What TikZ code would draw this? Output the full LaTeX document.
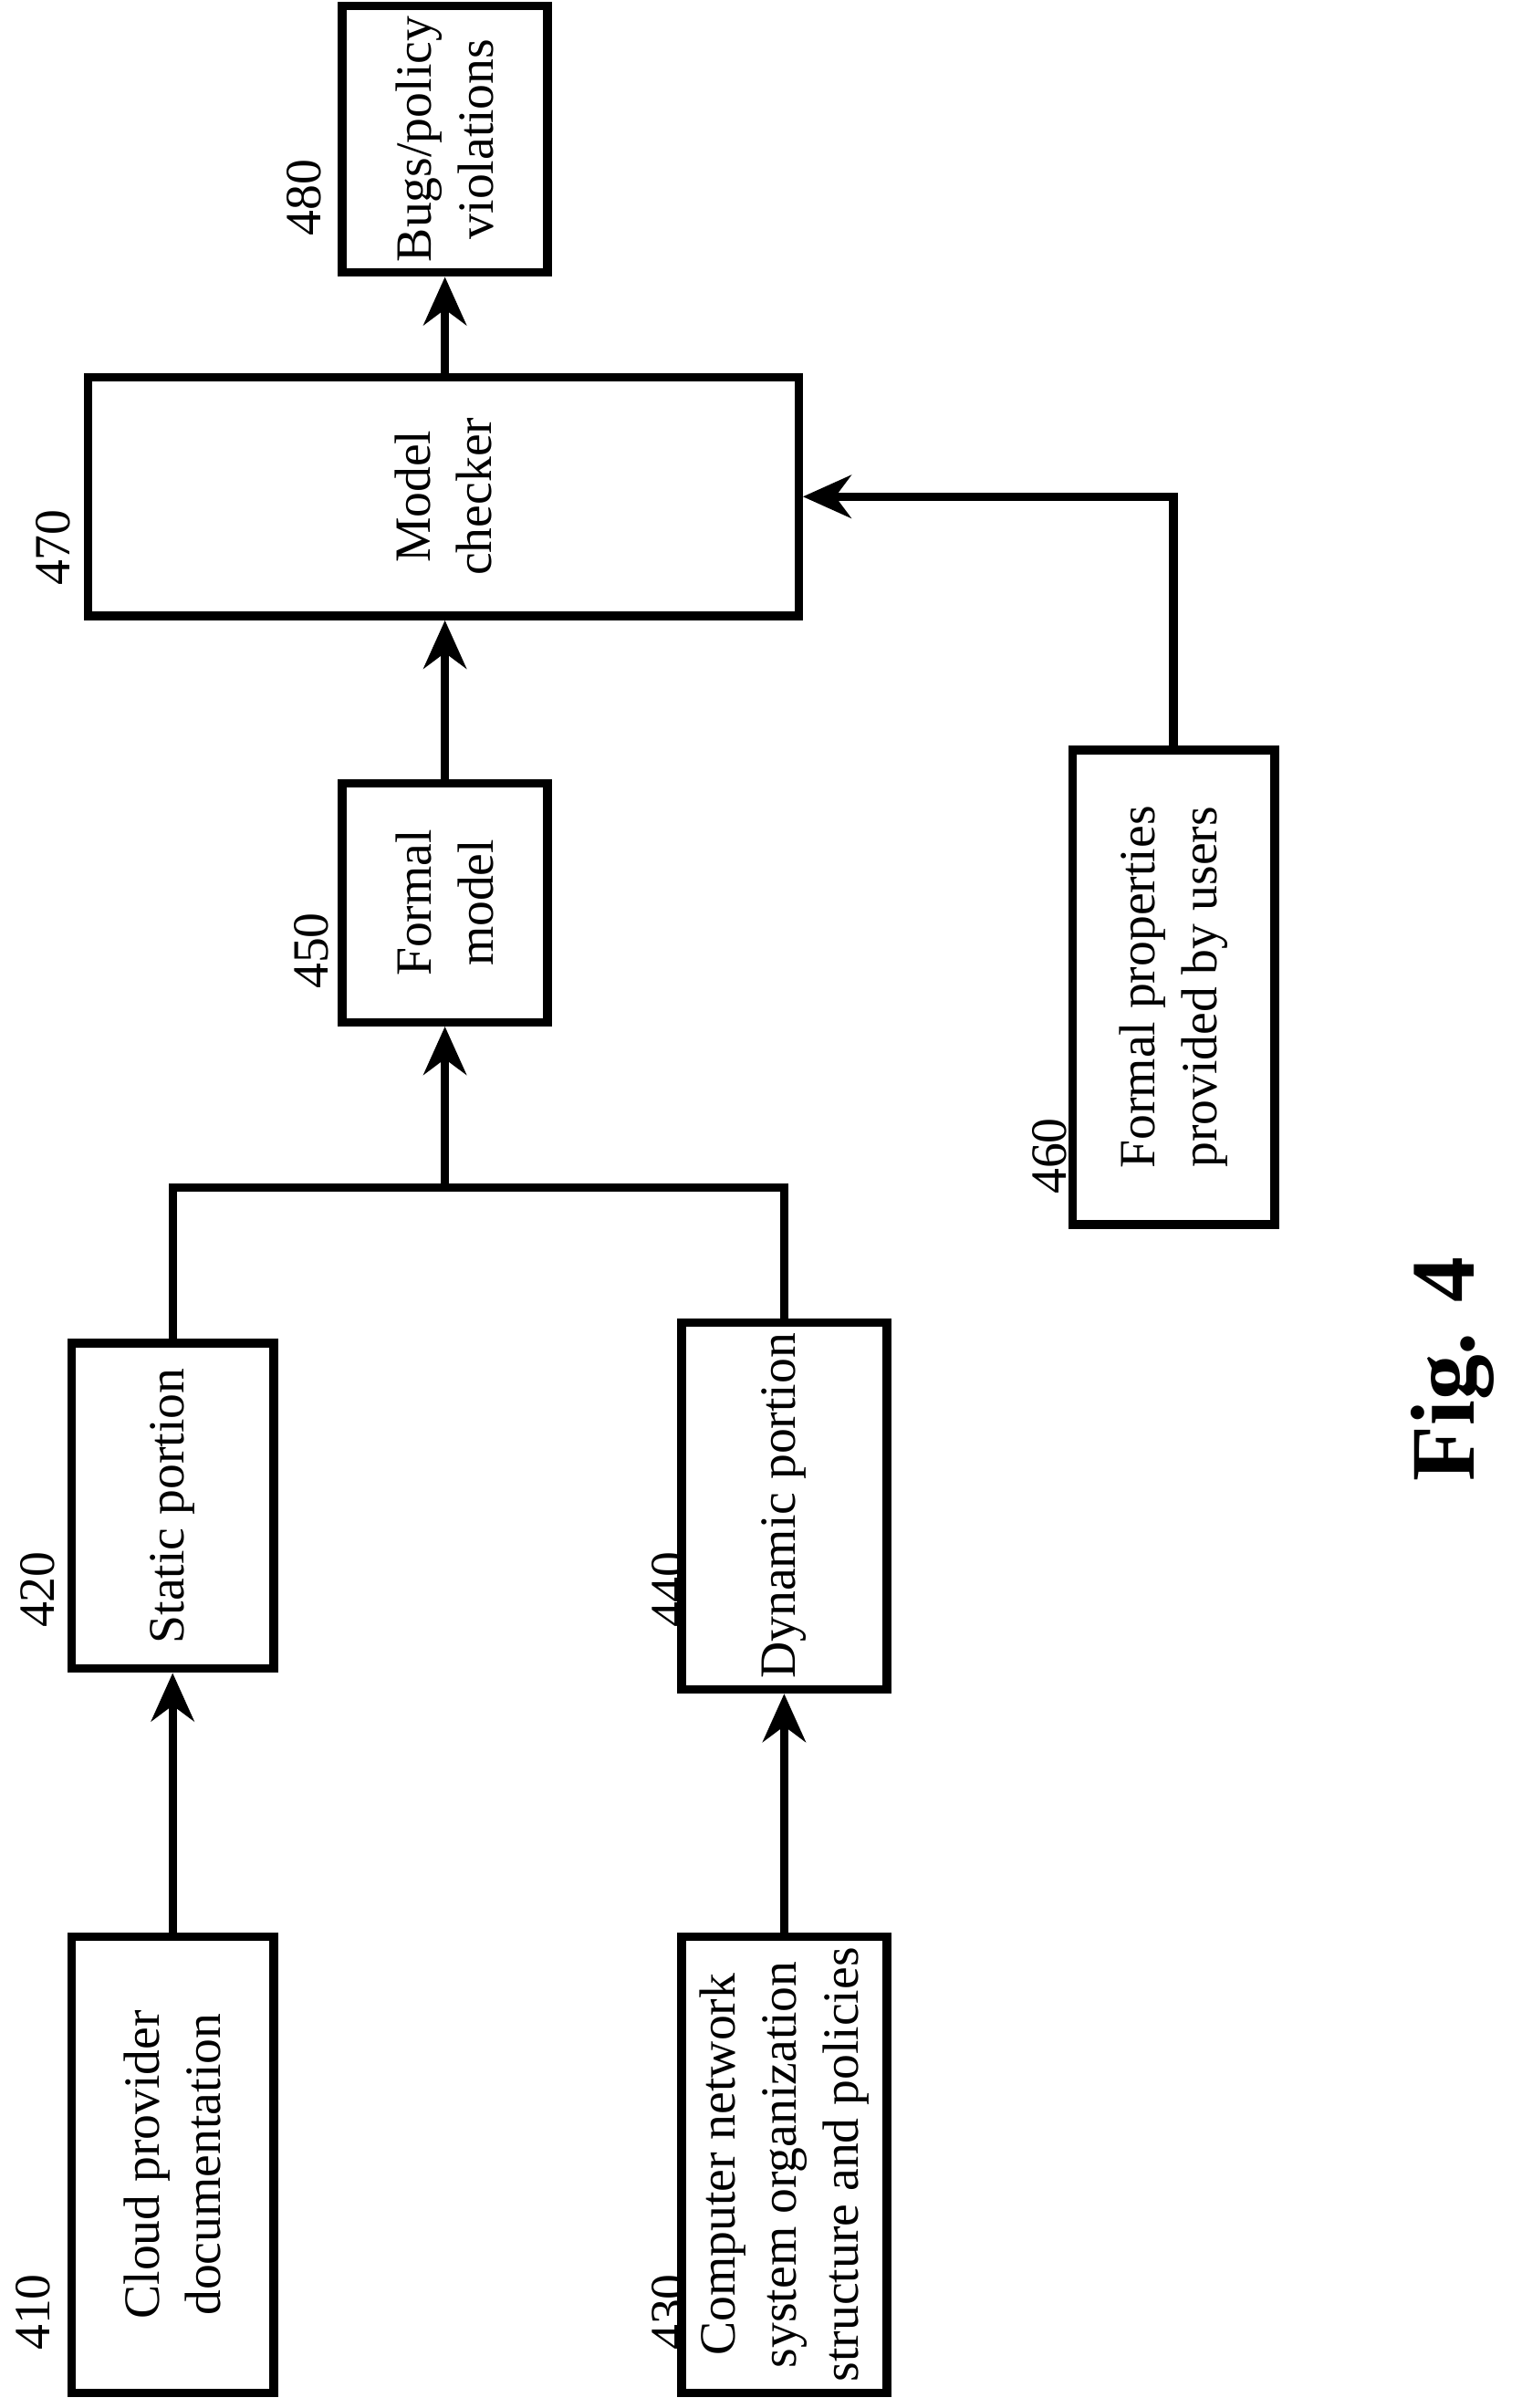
\documentclass[tikz,border=0pt]{standalone}
\usepackage{fontspec}
\setmainfont{Liberation Serif}
\usetikzlibrary{arrows.meta,positioning,calc}
\tikzset{
  blk/.style={draw,line width=1.6pt,rotate=90,align=center,inner sep=2pt,font=\fontsize{9.5}{11.5}\selectfont},
  num/.style={rotate=90,font=\fontsize{9.5}{11.5}\selectfont},
  arr/.style={line width=1.6pt,-{Stealth[length=9pt,width=8pt]}},
  ln/.style={line width=1.6pt}
}
\begin{document}
\begin{tikzpicture}
\useasboundingbox (0,0) rectangle (10,-15.83);
%Kästen (rotiert: east = oben, west = unten, south = rechts)
\node[blk,minimum width=3cm,minimum height=1.33cm] (doc) at (1.135,-14.23) {Cloud provider\\documentation};
\node[blk,minimum width=2.14cm,minimum height=1.33cm] (stat) at (1.135,-9.9) {Static portion};
\node[blk,minimum width=3cm,minimum height=1.35cm] (org) at (5.155,-14.23) {Computer network\\system organization\\structure and policies};
\node[blk,minimum width=2.14cm,minimum height=1.35cm] (dyn) at (5.155,-9.9) {Dynamic portion};
\node[blk,minimum width=1.57cm,minimum height=1.35cm] (fmod) at (2.925,-5.935) {Formal\\model};
\node[blk,minimum width=3.12cm,minimum height=1.33cm] (prop) at (7.715,-6.49) {Formal properties\\provided by users};
\node[blk,minimum width=1.57cm,minimum height=4.67cm] (mc) at (2.915,-3.265) {Model\\checker};
\node[blk,minimum width=1.53cm,minimum height=1.35cm] (bugs) at (2.925,-0.915) {Bugs/policy\\violations};
%Nummern
\node[num] (n410) at (0.22,-15.2) {410};
\node[num] (n420) at (0.25,-10.45) {420};
\node[num] (n430) at (4.4,-15.2) {430};
\node[num] (n440) at (4.4,-10.45) {440};
\node[num] (n450) at (2.05,-6.25) {450};
\node[num] (n460) at (6.9,-7.6) {460};
\node[num] (n470) at (0.35,-3.6) {470};
\node[num] (n480) at (2.0,-1.3) {480};
\node[rotate=90,font=\bfseries\fontsize{17}{20}\selectfont] (fig) at (9.55,-9.0) {Fig. 4};
%Pfeile
\coordinate (j) at ($(fmod.west)+(0,-1.06)$);
\draw[arr] (doc) -- (stat);
\draw[arr] (org) -- (dyn);
\draw[ln] (stat.east) |- (j) -| (dyn.east);
\draw[arr] (j) -- (fmod.west);
\draw[arr] (fmod.east) -- (mc.west -| fmod.east);
\draw[arr] (mc.east -| bugs.west) -- (bugs.west);
\draw[arr] (prop.east) |- (mc.south);
\end{tikzpicture}
\end{document}
